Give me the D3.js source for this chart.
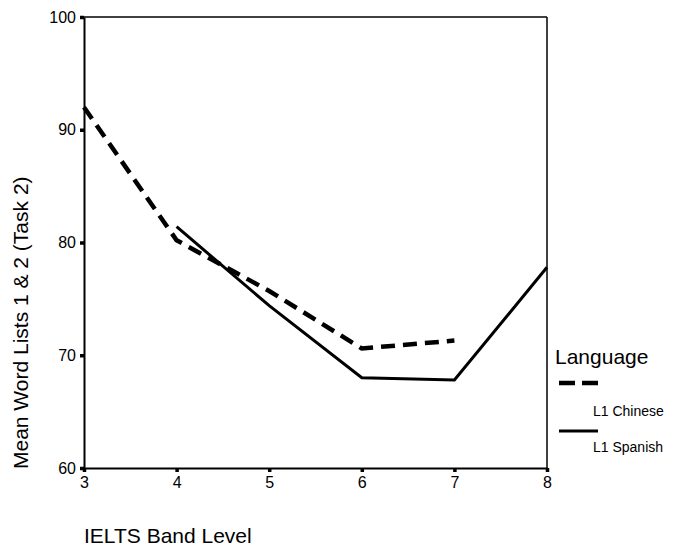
<!DOCTYPE html>
<html>
<head>
<meta charset="utf-8">
<script src="https://cdn.jsdelivr.net/npm/d3@7"></script>
<style>
  html, body { margin: 0; padding: 0; background: #fff; }
  svg { display: block; font-family: Arial, "Liberation Sans", sans-serif; }
</style>
</head>
<body>
<svg id="chart" width="674" height="548"></svg>
<script>
// IELTS band levels and mean word-list scores per L1 group
const bandTicks = [3, 4, 5, 6, 7, 8];
const scoreTicks = [60, 70, 80, 90, 100];
const chineseBands = [3, 4, 5, 6, 7];
const chineseMeans = [92.0, 80.2, 75.7, 70.6, 71.3];
const spanishBands = [4, 5, 6, 7, 8];
const spanishMeans = [81.4, 74.4, 68.0, 67.8, 77.8];
const seriesNames = ["L1 Chinese", "L1 Spanish"];

const svg = d3.select("#chart");
const x = d3.scaleLinear().domain([3, 8]).range([84, 547]);
const y = d3.scaleLinear().domain([60, 100]).range([468, 17]);

// frame: top and right edges
svg.append("line").attr("x1", x(3)).attr("x2", x(8)).attr("y1", y(100)).attr("y2", y(100))
  .attr("stroke", "#000").attr("stroke-width", 1.5);
svg.append("line").attr("x1", x(8)).attr("x2", x(8)).attr("y1", y(100)).attr("y2", y(60))
  .attr("stroke", "#000").attr("stroke-width", 1.5);

// axes
const yAxis = svg.append("g").attr("transform", `translate(${x(3)},0)`)
  .call(d3.axisLeft(y).tickValues(scoreTicks).tickFormat(d3.format("d"))
    .tickSize(4).tickSizeOuter(0).tickPadding(4));
const xAxis = svg.append("g").attr("transform", `translate(0,${y(60)})`)
  .call(d3.axisBottom(x).tickValues(bandTicks).tickFormat(d3.format("d"))
    .tickSize(4).tickSizeOuter(0).tickPadding(5));
[yAxis, xAxis].forEach(g => {
  g.select(".domain").attr("stroke", "#000").attr("stroke-width", 2);
  g.selectAll(".tick line").attr("stroke", "#000").attr("stroke-width", 3.5);
  g.selectAll(".tick text").attr("fill", "#000").attr("font-size", 16)
    .attr("font-family", "Arial, 'Liberation Sans', sans-serif");
});

// series lines
const line = d3.line().x(d => x(d[0])).y(d => y(d[1]));
svg.append("path")
  .datum(chineseBands.map((b, i) => [b, chineseMeans[i]]))
  .attr("d", line).attr("fill", "none").attr("stroke", "#000")
  .attr("stroke-width", 4.5).attr("stroke-dasharray", "14 8");
svg.append("path")
  .datum(spanishBands.map((b, i) => [b, spanishMeans[i]]))
  .attr("d", line).attr("fill", "none").attr("stroke", "#000")
  .attr("stroke-width", 3);

// axis titles
svg.append("text").attr("x", 84).attr("y", 543).attr("font-size", 21).text("IELTS Band Level");
svg.append("text").attr("transform", "translate(28,469) rotate(-90)")
  .attr("font-size", 21).text("Mean Word Lists 1 & 2 (Task 2)");

// legend
const legend = svg.append("g");
legend.append("text").attr("x", 555).attr("y", 364).attr("font-size", 21).text("Language");
legend.append("line").attr("x1", 559).attr("x2", 598).attr("y1", 383).attr("y2", 383)
  .attr("stroke", "#000").attr("stroke-width", 4.5).attr("stroke-dasharray", "16 7");
legend.append("text").attr("x", 593).attr("y", 416).attr("font-size", 14).text(seriesNames[0]);
legend.append("line").attr("x1", 559).attr("x2", 598).attr("y1", 431).attr("y2", 431)
  .attr("stroke", "#000").attr("stroke-width", 3);
legend.append("text").attr("x", 593).attr("y", 452).attr("font-size", 14).text(seriesNames[1]);
</script>
</body>
</html>
